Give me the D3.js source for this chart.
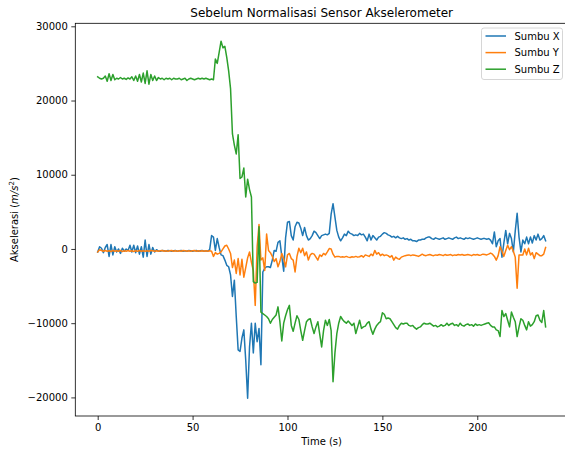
<!DOCTYPE html>
<html><head><meta charset="utf-8">
<script src="https://cdn.jsdelivr.net/npm/d3@7"></script>
<style>body{margin:0;background:#fff}svg{display:block}text{font-family:"DejaVu Sans",sans-serif;fill:#000}</style>
</head><body><svg id="c" width="565" height="453"></svg>
<script>
const title = "Sebelum Normalisasi Sensor Akselerometer";
const xLabel = "Time (s)";
const seriesNames = ["Sumbu X", "Sumbu Y", "Sumbu Z"];
const colors = ["#1f77b4", "#ff7f0e", "#2ca02c"];
const xTicks = [0, 50, 100, 150, 200];
const yTicks = [-20000, -10000, 0, 10000, 20000, 30000];

const sumbuX = [
-400,300,100,-500,200,600,-1000,600,-800,300,
-400,0,-600,100,-300,0,-200,500,-400,500,
-500,400,-700,300,-1100,1200,-1000,600,-700,200,
-400,-100,-300,-300,-200,-250,-300,-200,-250,-300,
-250,-200,-300,-250,-200,-300,-250,-300,-200,-250,
-300,-250,-200,-300,-250,-200,-300,-250,-300,-100,
1800,1600,-200,1400,200,-800,-900,-1500,-2200,-2400,
-3500,-6400,-4200,-9100,-13600,-13800,-12000,-10900,-15000,-20100,
-13200,-10000,-14000,-10000,-12500,-10700,-15600,-3100,-2600,-2400,
-2400,-2500,-1500,-200,-300,900,1100,-1000,-3000,1500,
3600,3700,1800,1200,3000,3600,3500,2800,1800,2900,
1800,1200,1400,1800,2400,2200,1800,1400,1800,1900,
2000,1900,2100,4700,6100,4300,2500,1600,1100,1500,
2000,1800,2400,2100,2000,1800,1900,1800,2100,1900,
2000,1600,1100,2000,1200,1800,1500,1200,1600,1700,
2000,2200,2100,1900,1800,1600,1700,1500,1700,1500,
1400,1500,1300,1400,1200,1300,1100,1100,1000,1200,
1200,1300,1300,1500,1600,1600,1400,1300,1500,1400,
1300,1400,1500,1300,1400,1500,1400,1300,1500,1600,
1400,1500,1400,1300,1500,1400,1500,1400,1300,1400,
1500,1400,1300,1400,1400,1300,1400,1200,700,2300,
300,1100,1400,-1100,800,2500,700,2100,1400,-400,
2400,4800,1600,-400,1200,700,1600,700,1600,800,
1800,1200,2000,1200,1400,1800,1100];

const sumbuY = [
-400,-100,-200,-300,-200,-300,-250,-350,-200,-300,
-250,-300,-200,-350,-250,-300,-200,-300,-250,-350,
-250,-300,-200,-300,-250,-300,-250,-300,-200,-250,
-300,-250,-300,-250,-200,-300,-250,-300,-250,-200,
-300,-250,-300,-250,-300,-200,-250,-300,-250,-300,
-250,-200,-300,-250,-300,-250,-300,-250,-300,-250,
-300,-1000,-500,-700,-600,-400,0,400,500,0,
-600,-2500,-1500,-3300,-1300,-3500,-1400,-3800,-2500,-1200,
-400,-1800,-2900,-7600,300,3300,-1500,-1200,-2900,2000,
-200,-500,-1000,-1700,-1300,-2400,-1700,-600,-1300,-2400,
-800,-600,-1300,-1500,-3100,-1000,100,-500,100,-900,
-400,-1500,-800,-600,-700,-1100,-1500,-800,-1000,-600,
-800,-400,50,0,-700,-1100,-1000,-1000,-1100,-1050,
-1100,-1000,-1100,-1150,-1050,-1100,-1000,-1100,-1050,-900,
-1100,-800,-900,-1000,-700,-900,-200,-700,-500,-900,
-700,-900,-800,-900,-1100,-900,-1500,-1100,-1300,-1400,
-1100,-1000,-900,-850,-800,-900,-800,-850,-900,-1000,
-850,-700,-850,-900,-800,-750,-850,-900,-800,-850,
-750,-800,-900,-750,-850,-800,-750,-900,-800,-850,
-750,-800,-750,-850,-800,-750,-800,-900,-750,-800,
-750,-850,-800,-700,-750,-800,-700,-550,-700,-1000,
-1500,-900,300,-300,-1000,-200,500,-100,300,-300,
-1100,-5300,-800,-800,-800,0,-800,100,-800,-500,
-1300,-500,-700,-900,-900,-700,200];

const sumbuZ = [
23200,23000,22900,23000,23300,22600,23600,22700,23500,22800,
23000,22900,23100,22900,23000,22850,23050,22900,23200,22700,
23300,22600,23500,22500,23700,22300,24000,22200,23500,22700,
23300,22700,23100,22900,23000,22800,23000,22900,23000,22800,
23000,22900,22900,23000,22800,22900,23000,22700,22900,23000,
22900,22800,22900,23000,22900,23000,22900,23000,22900,22800,
22900,22800,25600,25000,26500,28000,27100,27300,25800,24000,
21600,15500,14000,12800,15400,9500,9700,10900,7000,9400,
8000,7000,-4400,-4600,-4500,3000,-8500,-8700,-8900,-9100,
-9400,-10000,-9500,-9200,-8900,-7800,-9800,-12400,-10000,-9000,
-8200,-7600,-10300,-11100,-10000,-9000,-9500,-11000,-12300,-11000,
-9800,-9500,-9400,-10500,-11400,-10500,-9800,-11500,-13200,-11000,
-9600,-10300,-9500,-11000,-17900,-14000,-11400,-10000,-9100,-9500,
-9800,-10000,-9700,-10000,-10300,-10000,-11400,-10500,-9600,-10700,
-10500,-10400,-10000,-9800,-10800,-11500,-10800,-10300,-10000,-9800,
-8600,-8800,-9400,-9300,-9400,-9800,-10200,-10600,-10800,-10300,
-10000,-10100,-10000,-10000,-10300,-10400,-10300,-10600,-10800,-10600,
-10500,-10200,-10000,-10100,-10100,-10000,-10200,-10400,-10300,-10500,
-10400,-10200,-10400,-10300,-10000,-10300,-10100,-10000,-10300,-10200,
-10400,-10000,-10300,-10400,-10200,-10100,-10300,-10200,-10400,-10100,
-10300,-10200,-10300,-10200,-10100,-10000,-9950,-10300,-10500,-10500,
-10900,-11000,-11800,-8300,-9100,-8700,-9600,-10500,-8500,-9200,
-9800,-11800,-10500,-9400,-9600,-10300,-10900,-9800,-10400,-10200,
-9800,-9000,-8900,-9600,-9900,-8300,-10500];

const series = [sumbuX, sumbuY, sumbuZ];
const times = d3.range(sumbuX.length);

const svg = d3.select("#c");
const L = 75.3, R = 568, T = 23.3, B = 416;

const tMin = 0, tMax = times.length - 1;
const tPad = (tMax - tMin) * 0.05;
const x = d3.scaleLinear().domain([tMin - tPad, tMax + tPad]).range([L, R]);

const allV = series.flat();
const vMin = d3.min(allV), vMax = d3.max(allV);
const vPad = (vMax - vMin) * 0.05;
const y = d3.scaleLinear().domain([vMin - vPad, vMax + vPad]).range([B, T]);

svg.append("clipPath").attr("id", "clip").append("rect")
  .attr("x", L).attr("y", T).attr("width", R - L).attr("height", B - T);

const line = d3.line().x((d, i) => x(times[i])).y(d => y(d));
const plot = svg.append("g").attr("clip-path", "url(#clip)");
series.forEach((s, k) => {
  plot.append("path").datum(s).attr("d", line)
    .attr("fill", "none").attr("stroke", colors[k]).attr("stroke-width", 1.5)
    .attr("stroke-linejoin", "round").attr("stroke-linecap", "square");
});

const xAxis = d3.axisBottom(x).tickValues(xTicks).tickSize(4).tickPadding(3.5).tickFormat(d3.format("d"));
const yAxis = d3.axisLeft(y).tickValues(yTicks).tickSize(4).tickPadding(3.5).tickFormat(d3.format("d"));
const gx = svg.append("g").attr("transform", `translate(0,${B})`).call(xAxis);
const gy = svg.append("g").attr("transform", `translate(${L},0)`).call(yAxis);
[gx, gy].forEach(a => {
  a.select(".domain").remove();
  a.selectAll("line").attr("stroke", "#000").attr("stroke-width", 0.8);
  a.selectAll("text").attr("font-size", 10).attr("font-family", "DejaVu Sans").attr("fill", "#000");
});

svg.append("rect").attr("x", L).attr("y", T).attr("width", R - L).attr("height", B - T)
  .attr("fill", "none").attr("stroke", "#000").attr("stroke-width", 0.8);

svg.append("text").attr("x", (L + R) / 2).attr("y", T - 6).attr("text-anchor", "middle")
  .attr("font-size", 12).text(title);
svg.append("text").attr("x", (L + R) / 2).attr("y", 445).attr("text-anchor", "middle")
  .attr("font-size", 10).text(xLabel);
const yl = svg.append("text").attr("transform", `translate(18,${(T + B) / 2}) rotate(-90)`)
  .attr("text-anchor", "middle").attr("font-size", 10);
yl.append("tspan").text("Akselerasi (");
yl.append("tspan").attr("font-style", "italic").text("m/s");
yl.append("tspan").attr("font-size", 7).attr("dy", -4).text("2");
yl.append("tspan").attr("dy", 4).text(")");

const lg = svg.append("g");
lg.append("rect").attr("x", 481.5).attr("y", 28).attr("width", 81).attr("height", 51.5)
  .attr("rx", 2.5).attr("fill", "#fff").attr("fill-opacity", 0.8)
  .attr("stroke", "#cccccc").attr("stroke-width", 0.8);
seriesNames.forEach((n, k) => {
  const yy = 36 + k * 16.6;
  lg.append("line").attr("x1", 485.5).attr("x2", 506).attr("y1", yy).attr("y2", yy)
    .attr("stroke", colors[k]).attr("stroke-width", 1.5);
  lg.append("text").attr("x", 514.5).attr("y", yy + 3.6).attr("font-size", 10).text(n);
});
</script></body></html>
